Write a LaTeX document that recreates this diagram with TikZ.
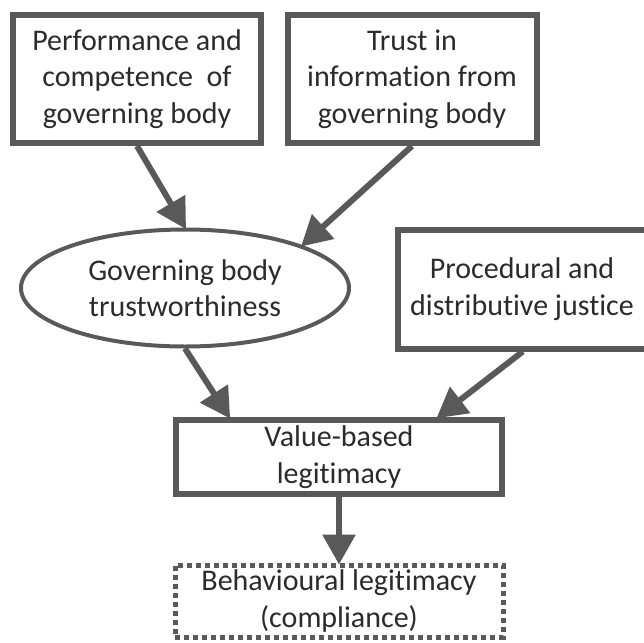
\documentclass[tikz,border=0pt]{standalone}
\usepackage{fontspec}
\setmainfont{Carlito}[Ligatures=NoCommon]
\usetikzlibrary{shapes.geometric,arrows.meta}
\definecolor{edgegray}{HTML}{595959}
\definecolor{textgray}{HTML}{2B2B2B}
\begin{document}
\begin{tikzpicture}[x=1pt,y=-1pt]
\tikzstyle{factor} = [rectangle, draw=edgegray, line width=6pt, text=textgray, align=center, inner sep=0pt, font=\fontsize{30}{36.5}\selectfont]
\tikzstyle{construct} = [ellipse, draw=edgegray, line width=4pt, text=textgray, align=center, inner sep=0pt, font=\fontsize{30}{36.5}\selectfont]
\tikzstyle{outcome} = [rectangle, draw=edgegray, line width=5pt, dash pattern=on 5pt off 4pt, text=textgray, align=center, inner sep=0pt, font=\fontsize{30}{36.5}\selectfont]
\tikzstyle{arrow} = [edgegray, line width=6pt, -{Triangle[length=30pt,width=32pt]}, shorten >=-2pt]

\useasboundingbox (0,0) rectangle (644,642);

\node (Performance) [factor, minimum width=248pt, minimum height=128pt] at (137,79) {Performance and\\competence\ \ of\\governing body};
\node (TrustInfo) [factor, minimum width=249pt, minimum height=128pt] at (412,79) {Trust in\\information from\\governing body};
\node (Trustworthiness) [construct, minimum width=328pt, minimum height=117pt] at (185,288) {Governing body\\trustworthiness};
\node (Justice) [factor, minimum width=254pt, minimum height=119pt] at (525,289) {\hspace*{-6pt}Procedural and\\\hspace*{-6pt}distributive justice};
\node (ValueLegitimacy) [factor, minimum width=326pt, minimum height=74pt] at (339,457) {Value-based\\legitimacy};
\node (Behavioural) [outcome, minimum width=328pt, minimum height=72pt] at (339,601) {Behavioural legitimacy\\(compliance)};

\draw [arrow] (Performance.south) -- (Trustworthiness.north);
\draw [arrow] (TrustInfo.south) -- (Trustworthiness.20);
\draw [arrow] (Trustworthiness.south) -- (ValueLegitimacy.160);
\draw [arrow] (Justice.-92) -- (ValueLegitimacy.22);
\draw [arrow] (ValueLegitimacy.south) -- (Behavioural.north);

\end{tikzpicture}
\end{document}
